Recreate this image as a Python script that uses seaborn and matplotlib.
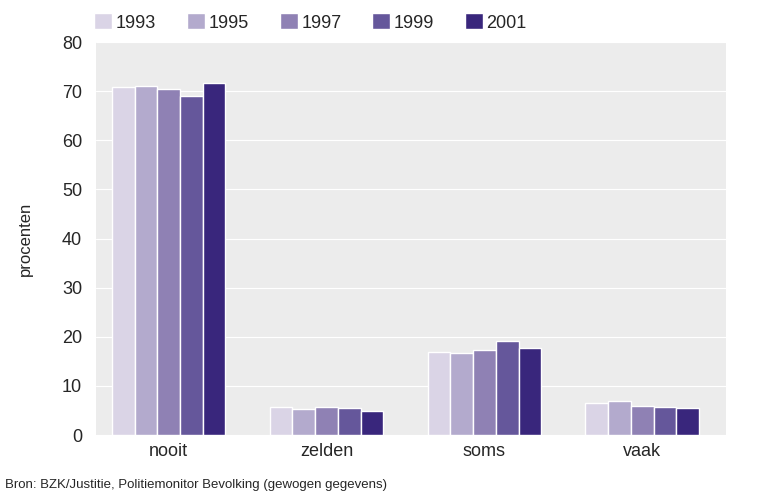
import matplotlib
matplotlib.use("Agg")
import matplotlib.pyplot as plt
import seaborn as sns
import pandas as pd

# waarden
categories = ['nooit', 'zelden', 'soms', 'vaak']
years = ['1993', '1995', '1997', '1999', '2001']
v1993 = [70.8, 5.6, 16.9, 6.5]
v1995 = [71.1, 5.2, 16.7, 6.9]
v1997 = [70.5, 5.8, 17.4, 5.9]
v1999 = [69.1, 5.4, 19.1, 5.8]
v2001 = [71.6, 4.9, 17.8, 5.4]
colors = ['#dad4e6', '#b3aacd', '#8f81b4', '#65579b', '#39267c']

rows = []
for year, vals in zip(years, [v1993, v1995, v1997, v1999, v2001]):
    for cat, v in zip(categories, vals):
        rows.append({'categorie': cat, 'jaar': year, 'procent': v})
df = pd.DataFrame(rows)

sns.set_style('darkgrid', {'axes.facecolor': '#ececec', 'grid.color': 'white',
                           'grid.linewidth': 1.5})
plt.rcParams['font.family'] = ['Liberation Sans', 'DejaVu Sans']

fig = plt.figure(figsize=(7.74, 4.98), dpi=100)
ax = fig.add_axes([0.124, 0.1265, 0.814, 0.789])

sns.barplot(data=df, x='categorie', y='procent', hue='jaar', order=categories,
            hue_order=years, palette=colors, saturation=1, width=0.72,
            edgecolor='white', linewidth=1, ax=ax)

ax.set_ylim(0, 80)
ax.set_xlim(-0.46, 3.53)
ax.set_yticks(range(0, 81, 10))
ax.xaxis.grid(False)
ax.tick_params(axis='y', labelsize=13, pad=10, length=0)
ax.tick_params(axis='x', labelsize=13, pad=6, length=0)
ax.set_xlabel('')
ax.set_ylabel('procenten', fontsize=12, labelpad=21)
for s in ax.spines.values():
    s.set_visible(False)

# legenda bovenaan, in één rij
handles, labels = ax.get_legend_handles_labels()
ax.legend_.remove()
fig.legend(handles, labels, loc='upper left', bbox_to_anchor=(0.108, 0.995),
           ncol=5, frameon=False, fontsize=13, handlelength=1.0,
           handleheight=1.0, handletextpad=0.2, columnspacing=1.7,
           borderaxespad=0.2)

fig.text(0.006, 0.02, 'Bron: BZK/Justitie, Politiemonitor Bevolking (gewogen gegevens)',
         fontsize=9.5, ha='left', va='baseline')

fig.savefig('out.png', dpi=100)
